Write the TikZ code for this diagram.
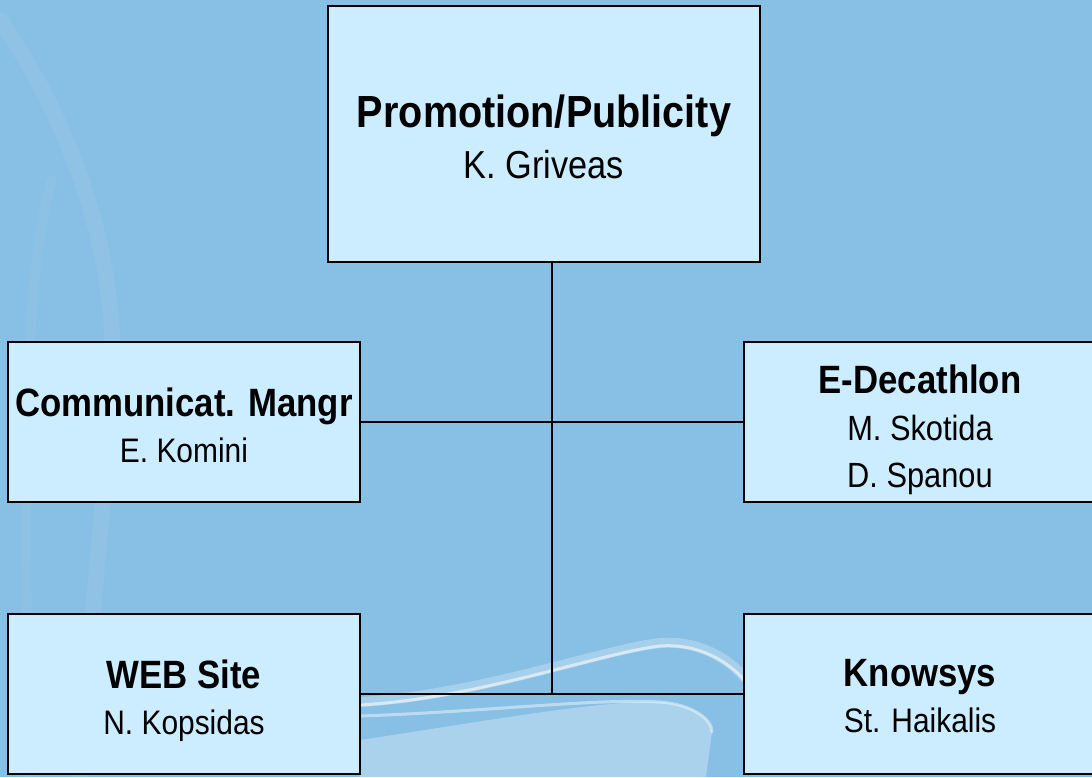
\documentclass[tikz,border=0pt]{standalone}
\usepackage{fontspec}
\setmainfont{Liberation Sans}[FakeStretch=0.88]
\usepackage{tikz}

\definecolor{slideblue}{RGB}{136,191,228}
\definecolor{boxblue}{RGB}{204,236,255}

\tikzset{
  unitbox/.style={draw=black, line width=1.5pt, fill=boxblue, inner sep=0pt},
  unittext/.style={align=center, inner sep=0pt, font=\fontsize{34}{46}\selectfont},
  link/.style={line width=1.5pt},
  glow/.style={white, line cap=round},
}
\newcommand{\unithead}[2][39.5]{{\bfseries\fontsize{#1}{46}\selectfont #2}}

\begin{document}
\begin{tikzpicture}[x=1pt, y=-1pt]
\useasboundingbox (0,0) rectangle (1092,777);
\clip (0,0) rectangle (1092,777);
\fill[slideblue] (0,0) rectangle (1092,777);

% background swirls
\draw[glow, opacity=0.06, line width=16pt] (0,20) .. controls (70,120) and (115,250) .. (112,360) .. controls (110,460) and (95,560) .. (80,777);
\draw[glow, opacity=0.05, line width=10pt] (52,180) .. controls (30,250) and (20,400) .. (30,777);
\fill[white, opacity=0.30] (360,777) -- (360,740) .. controls (480,722) and (600,700) .. (660,702) .. controls (690,704) and (712,718) .. (712,732) -- (706,777) -- cycle;
\draw[glow, opacity=0.25, line width=10pt] (360,702) .. controls (480,695) and (600,650) .. (660,643) .. controls (700,640) and (730,660) .. (745,678);
\draw[glow, opacity=0.55, line width=3pt] (360,705) .. controls (480,698) and (600,653) .. (660,646) .. controls (700,643) and (730,663) .. (745,681);
\draw[glow, opacity=0.45, line width=3pt] (360,716) .. controls (480,712) and (600,698) .. (660,702) .. controls (690,704) and (712,718) .. (712,732);

% units
\node[unitbox, minimum width=432pt, minimum height=256pt] (promo) at (544,134) {};
\node[unitbox, minimum width=352pt, minimum height=160pt] (comm) at (184,422) {};
\node[unitbox, minimum width=352pt, minimum height=160pt] (edec) at (920,422) {};
\node[unitbox, minimum width=352pt, minimum height=160pt] (web) at (184,694) {};
\node[unitbox, minimum width=352pt, minimum height=160pt] (know) at (920,694) {};

\node[unittext, font=\fontsize{39}{51}\selectfont] (promo-t) at (544,136.5) {\unithead[45]{Promotion/Publicity}\\K. Griveas};
\node[unittext] (comm-t) at (184,425.5) {\unithead{Communicat. Mangr}\\E. Komini};
\node[unittext, font=\fontsize{35}{47}\selectfont] (edec-t) at (920,430) {\unithead{E-Decathlon}\\M. Skotida\\D. Spanou};
\node[unittext] (web-t) at (184,700.5) {\unithead{WEB Site}\\N. Kopsidas};
\node[unittext] (know-t) at (920,696.5) {\unithead{Knowsys}\\St. Haikalis};

% connectors
\coordinate (hub) at (552,694);
\draw[link] (promo.south -| hub) -- (hub);
\draw[link] (comm) -- (edec);
\draw[link] (web) -- (know);

\end{tikzpicture}
\end{document}
